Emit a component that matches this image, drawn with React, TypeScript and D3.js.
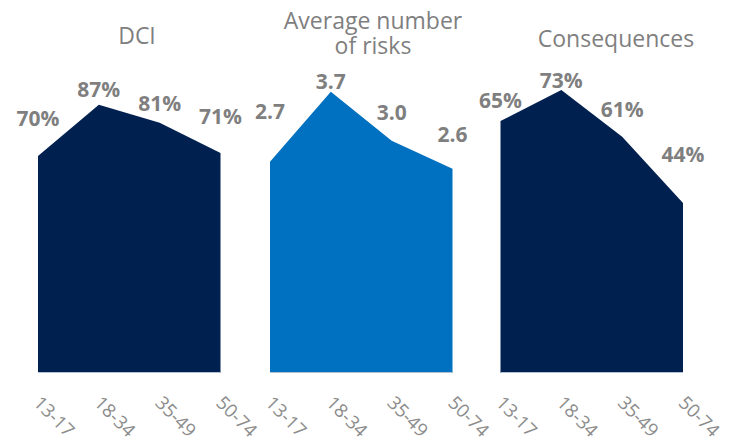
import React from "react";
import * as d3 from "d3";

const ageGroups = ["13-17", "18-34", "35-49", "50-74"];
const panelTitles = [["DCI"], ["Average number", "of risks"], ["Consequences"]];
const dciValues = [70, 87, 81, 71];
const riskValues = [2.7, 3.7, 3.0, 2.6];
const consequenceValues = [65, 73, 61, 44];
const valueLabels = [
  ["70%", "87%", "81%", "71%"],
  ["2.7", "3.7", "3.0", "2.6"],
  ["65%", "73%", "61%", "44%"],
];

// styling / layout config
const W = 733;
const H = 442;
const baseY = 373;
const topY = 40;
const panelStarts = [38, 270, 500.5];
const panelWidth = 182.5;
const yDomains: [number, number][] = [
  [-2.1, 108.5],
  [-0.32, 4.44],
  [0.4, 85.8],
];
const fills = ["#002050", "#0070C0", "#002050"];
const labelOffsets = [
  [30, 8, 12, 29],
  [43, 3, 21, 27],
  [13, 2, 20, 41],
];
const titleCenters = [137, 373, 616];
const titleBaselines = [44, 28.5, 47];
const titleLineGap = 25;
const FONT = "'Segoe UI', 'Open Sans', 'Noto Sans', sans-serif";
const GRAY = "#7f7f7f";

export default function App() {
  const series = [dciValues, riskValues, consequenceValues];
  return (
    <svg
      width={W}
      height={H}
      style={{ position: "absolute", left: 0, top: 0, background: "#fff" }}
      fontFamily={FONT}
    >
      {series.map((vals, p) => {
        const x = d3
          .scalePoint<string>()
          .domain(ageGroups)
          .range([panelStarts[p], panelStarts[p] + panelWidth]);
        const y = d3.scaleLinear().domain(yDomains[p]).range([baseY, topY]);
        const area = d3
          .area<number>()
          .x((_, i) => x(ageGroups[i])!)
          .y0(baseY)
          .y1((v) => y(v));
        return (
          <g key={p}>
            <path d={area(vals) || ""} fill={fills[p]} />
            <line
              x1={panelStarts[p]}
              x2={panelStarts[p] + panelWidth}
              y1={baseY - 0.5}
              y2={baseY - 0.5}
              stroke="#b4c0d4"
              strokeWidth={1}
            />
            {vals.map((v, i) => (
              <text
                key={"l" + i}
                x={x(ageGroups[i])!}
                y={y(v) - labelOffsets[p][i]}
                textAnchor="middle"
                fontSize={21}
                fontWeight={700}
                fill={GRAY}
              >
                {valueLabels[p][i]}
              </text>
            ))}
            {ageGroups.map((g, i) => {
              const ax = x(g)! - 5.5;
              const ay = 404;
              return (
                <text
                  key={"t" + i}
                  x={ax}
                  y={ay}
                  transform={`rotate(45 ${ax} ${ay})`}
                  fontSize={18.5}
                  fill="#8c8c8c"
                >
                  {g}
                </text>
              );
            })}
            <text
              x={titleCenters[p]}
              y={titleBaselines[p]}
              textAnchor="middle"
              fontSize={23}
              fill={GRAY}
            >
              {panelTitles[p].map((t, k) => (
                <tspan key={k} x={titleCenters[p]} dy={k === 0 ? 0 : titleLineGap}>
                  {t}
                </tspan>
              ))}
            </text>
          </g>
        );
      })}
    </svg>
  );
}
